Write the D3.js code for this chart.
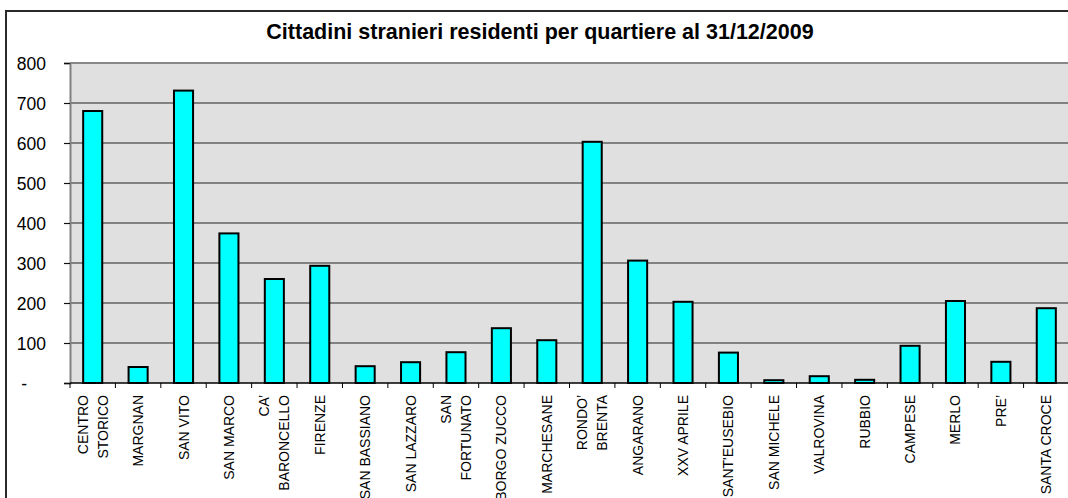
<!DOCTYPE html>
<html><head><meta charset="utf-8">
<script src="https://cdn.jsdelivr.net/npm/d3@7"></script>
<style>
html,body{margin:0;padding:0;background:#fff;overflow:hidden;width:1068px;height:498px;}
svg{display:block;font-family:"Liberation Sans",Arial,sans-serif;}
</style></head>
<body><svg id="chart" width="1068" height="498"></svg>
<script>
const title = "Cittadini stranieri residenti per quartiere al 31/12/2009";
const categories = ["CENTRO\nSTORICO","MARGNAN","SAN VITO","SAN MARCO","CA’\nBARONCELLO","FIRENZE","SAN BASSIANO","SAN LAZZARO","SAN\nFORTUNATO","BORGO ZUCCO","MARCHESANE","RONDO’\nBRENTA","ANGARANO","XXV APRILE","SANT'EUSEBIO","SAN MICHELE","VALROVINA","RUBBIO","CAMPESE","MERLO","PRE’","SANTA CROCE"];
const values = [680,40,731,374,260,293,42,52,77,137,107,603,306,203,76,7,17,8,93,205,53,187];
const yTicks = [0,100,200,300,400,500,600,700,800];

const svg = d3.select("#chart");
const L = 70, R = 1069, T = 63, B = 383;

const x = d3.scaleBand().domain(d3.range(categories.length)).range([L, R]).paddingInner(0.58).paddingOuter(0.29);
const y = d3.scaleLinear().domain([0, 800]).range([B, T]);

// outer frame (top and left edges; the rest lies outside the picture)
svg.append("path").attr("d", "M6,500 V11 H1070")
  .attr("fill", "none").attr("stroke", "#2a2a2a").attr("stroke-width", 2);

// plot background
svg.append("rect").attr("x", L).attr("y", T).attr("width", R - L).attr("height", B - T).attr("fill", "#e0e0e0");

// gridlines
svg.append("g").selectAll("line").data(yTicks.filter(d => d > 0 && d < 800)).join("line")
  .attr("x1", L).attr("x2", R).attr("y1", d => y(d)).attr("y2", d => y(d))
  .attr("stroke", "#222").attr("stroke-width", 1.2);

// top border of plot
svg.append("line").attr("x1", L).attr("x2", R).attr("y1", T).attr("y2", T).attr("stroke", "#888").attr("stroke-width", 2);

// title
svg.append("text").attr("x", 540).attr("y", 39).attr("text-anchor", "middle")
  .attr("font-size", 21.5).attr("font-weight", "bold").attr("fill", "#000").text(title);

// bars
svg.append("g").selectAll("rect").data(values).join("rect")
  .attr("x", (d, i) => x(i)).attr("width", x.bandwidth())
  .attr("y", d => y(d)).attr("height", d => y(0) - y(d))
  .attr("fill", "#00ffff").attr("stroke", "#000").attr("stroke-width", 2);

// y axis
const yAxis = d3.axisLeft(y).tickValues(yTicks).tickSize(6).tickPadding(18)
  .tickFormat(d => d === 0 ? "-" : d3.format("d")(d));
const gy = svg.append("g").attr("transform", `translate(${L},0)`).call(yAxis);
gy.select(".domain").attr("stroke", "#808080").attr("stroke-width", 2);
gy.selectAll(".tick line").attr("stroke", "#111").attr("stroke-width", 1.2);
gy.selectAll(".tick text").attr("font-size", 17.5).attr("font-family", "Liberation Sans, Arial, sans-serif")
  .attr("fill", "#000").attr("dy", "0.36em");
gy.selectAll(".tick text").filter(d => d === 0).attr("dx", -19);

// x axis line and ticks at band boundaries
svg.append("line").attr("x1", L).attr("x2", R).attr("y1", B).attr("y2", B).attr("stroke", "#000").attr("stroke-width", 1.5);
const step = x.step();
svg.append("g").selectAll("line").data(d3.range(categories.length)).join("line")
  .attr("x1", i => L + i * step).attr("x2", i => L + i * step)
  .attr("y1", B).attr("y2", B + 5).attr("stroke", "#000").attr("stroke-width", 1);

// x labels
const lab = svg.append("g").selectAll("g").data(categories).join("g")
  .attr("transform", (d, i) => `translate(${x(i) + x.bandwidth() / 2},395) rotate(-90)`);
lab.each(function(d) {
  const lines = d.split("\n");
  const t = d3.select(this).append("text").attr("text-anchor", "end")
    .attr("font-size", 14).attr("fill", "#000");
  lines.forEach((ln, k) => {
    t.append("tspan").attr("x", 0).attr("y", (k - (lines.length - 1) / 2) * 20 + 5).text(ln);
  });
});
</script>
</body></html>
